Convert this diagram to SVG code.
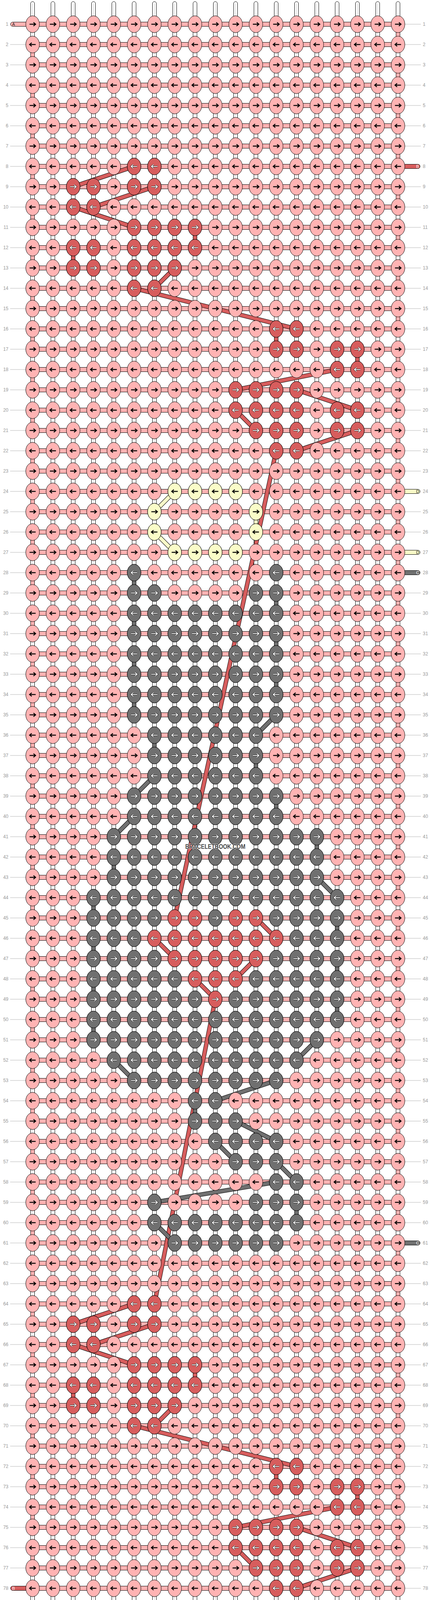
<svg xmlns="http://www.w3.org/2000/svg" width="1104" height="4336" viewBox="0 0 1104 4336">
<style>
.n{font-family:"Liberation Sans",Arial,sans-serif;font-size:12px;fill:#999}
.e{text-anchor:end}
.s{font-family:"Liberation Sans",Arial,sans-serif;font-size:11px}
.o{fill:none;stroke:#000;stroke-width:11}
.cp{fill:none;stroke:#ffb3b3;stroke-width:9}
.cr{fill:none;stroke:#d75d5d;stroke-width:9}
.cg{fill:none;stroke:#707070;stroke-width:9}
.cy{fill:none;stroke:#fafcc8;stroke-width:9}
.ll{fill:none;stroke:#b4b4b4;stroke-width:1}
</style>
<defs>
<path id="a" d="M-7.8,0H7.8M2.2,-4.7L7.8,0L2.2,4.7" fill="none"/>
<g id="wA"><use href="#a" stroke="#000" stroke-width="3.4"/><use href="#a" stroke="#fff" stroke-width="2"/></g>
<g id="pR"><ellipse rx="17.5" ry="21.5" fill="#ffb3b3" stroke="#000"/><use href="#a" stroke="#000" stroke-width="2.3"/></g>
<g id="pL"><ellipse rx="17.5" ry="21.5" fill="#ffb3b3" stroke="#000"/><use href="#a" stroke="#000" stroke-width="2.3" transform="scale(-1,1)"/></g>
<g id="yR"><ellipse rx="17.5" ry="21.5" fill="#fafcc8" stroke="#000"/><use href="#a" stroke="#000" stroke-width="2.3"/></g>
<g id="yL"><ellipse rx="17.5" ry="21.5" fill="#fafcc8" stroke="#000"/><use href="#a" stroke="#000" stroke-width="2.3" transform="scale(-1,1)"/></g>
<g id="rR"><ellipse rx="17.5" ry="21.5" fill="#d75d5d" stroke="#000"/><use href="#wA"/></g>
<g id="rL"><ellipse rx="17.5" ry="21.5" fill="#d75d5d" stroke="#000"/><use href="#wA" transform="scale(-1,1)"/></g>
<g id="gR"><ellipse rx="17.5" ry="21.5" fill="#707070" stroke="#000"/><use href="#wA"/></g>
<g id="gL"><ellipse rx="17.5" ry="21.5" fill="#707070" stroke="#000"/><use href="#wA" transform="scale(-1,1)"/></g>
<g id="TR"><use href="#pR"/><use href="#pR" x="52"/><use href="#pR" x="104"/><use href="#pR" x="156"/><use href="#pR" x="208"/><use href="#pR" x="260"/><use href="#pR" x="312"/><use href="#pR" x="364"/><use href="#pR" x="416"/><use href="#pR" x="468"/><use href="#pR" x="520"/><use href="#pR" x="572"/><use href="#pR" x="624"/><use href="#pR" x="676"/><use href="#pR" x="728"/><use href="#pR" x="780"/><use href="#pR" x="832"/><use href="#pR" x="884"/><use href="#pR" x="936"/></g>
<g id="TL"><use href="#pL"/><use href="#pL" x="52"/><use href="#pL" x="104"/><use href="#pL" x="156"/><use href="#pL" x="208"/><use href="#pL" x="260"/><use href="#pL" x="312"/><use href="#pL" x="364"/><use href="#pL" x="416"/><use href="#pL" x="468"/><use href="#pL" x="520"/><use href="#pL" x="572"/><use href="#pL" x="624"/><use href="#pL" x="676"/><use href="#pL" x="728"/><use href="#pL" x="780"/><use href="#pL" x="832"/><use href="#pL" x="884"/><use href="#pL" x="936"/></g>
<rect id="hs" x="83.5" y="-5.5" width="936" height="11" fill="#ffb3b3" stroke="#000"/>
<g id="vs"><rect x="-5" y="4" width="10" height="4327" rx="5" fill="#fff" stroke="#000"/><path d="M0,9V4326" stroke="#c8c8c8"/></g>
</defs>
<rect width="1104" height="4336" fill="#fff"/>
<g id="strings">
<use href="#vs" x="83.5"/><use href="#vs" x="135.5"/><use href="#vs" x="187.5"/><use href="#vs" x="239.5"/><use href="#vs" x="291.5"/><use href="#vs" x="343.5"/><use href="#vs" x="395.5"/><use href="#vs" x="447.5"/><use href="#vs" x="499.5"/><use href="#vs" x="551.5"/><use href="#vs" x="603.5"/><use href="#vs" x="655.5"/><use href="#vs" x="707.5"/><use href="#vs" x="759.5"/><use href="#vs" x="811.5"/><use href="#vs" x="863.5"/><use href="#vs" x="915.5"/><use href="#vs" x="967.5"/><use href="#vs" x="1019.5"/>
</g>
<g id="rowstrips">
<use href="#hs" y="62"/><use href="#hs" y="114"/><use href="#hs" y="166"/><use href="#hs" y="218"/><use href="#hs" y="270"/><use href="#hs" y="322"/><use href="#hs" y="374"/><use href="#hs" y="426"/><use href="#hs" y="478"/><use href="#hs" y="530"/><use href="#hs" y="582"/><use href="#hs" y="634"/><use href="#hs" y="686"/><use href="#hs" y="738"/><use href="#hs" y="790"/><use href="#hs" y="842"/><use href="#hs" y="894"/><use href="#hs" y="946"/><use href="#hs" y="998"/><use href="#hs" y="1050"/><use href="#hs" y="1102"/><use href="#hs" y="1154"/><use href="#hs" y="1206"/><use href="#hs" y="1258"/><use href="#hs" y="1310"/><use href="#hs" y="1362"/><use href="#hs" y="1414"/><use href="#hs" y="1466"/><use href="#hs" y="1518"/><use href="#hs" y="1570"/><use href="#hs" y="1622"/><use href="#hs" y="1674"/><use href="#hs" y="1726"/><use href="#hs" y="1778"/><use href="#hs" y="1830"/><use href="#hs" y="1882"/><use href="#hs" y="1934"/><use href="#hs" y="1986"/><use href="#hs" y="2038"/><use href="#hs" y="2090"/><use href="#hs" y="2142"/><use href="#hs" y="2194"/><use href="#hs" y="2246"/><use href="#hs" y="2298"/><use href="#hs" y="2350"/><use href="#hs" y="2402"/><use href="#hs" y="2454"/><use href="#hs" y="2506"/><use href="#hs" y="2558"/><use href="#hs" y="2610"/><use href="#hs" y="2662"/><use href="#hs" y="2714"/><use href="#hs" y="2766"/><use href="#hs" y="2818"/><use href="#hs" y="2870"/><use href="#hs" y="2922"/><use href="#hs" y="2974"/><use href="#hs" y="3026"/><use href="#hs" y="3078"/><use href="#hs" y="3130"/><use href="#hs" y="3182"/><use href="#hs" y="3234"/><use href="#hs" y="3286"/><use href="#hs" y="3338"/><use href="#hs" y="3390"/><use href="#hs" y="3442"/><use href="#hs" y="3494"/><use href="#hs" y="3546"/><use href="#hs" y="3598"/><use href="#hs" y="3650"/><use href="#hs" y="3702"/><use href="#hs" y="3754"/><use href="#hs" y="3806"/><use href="#hs" y="3858"/><use href="#hs" y="3910"/><use href="#hs" y="3962"/><use href="#hs" y="4014"/><use href="#hs" y="4066"/><use href="#hs" y="4118"/><use href="#hs" y="4170"/><use href="#hs" y="4222"/><use href="#hs" y="4274"/>
</g>
<g id="labels">
<path class="ll" d="M26,114h40M26,166h40M26,218h40M26,270h40M26,322h40M26,374h40M26,426h40M26,478h40M26,530h40M26,582h40M26,634h40M26,686h40M26,738h40M26,790h40M26,842h40M26,894h40M26,946h40M26,998h40M26,1050h40M26,1102h40M26,1154h40M26,1206h40M26,1258h40M26,1310h40M26,1362h40M26,1414h40M26,1466h40M26,1518h40M26,1570h40M26,1622h40M26,1674h40M26,1726h40M26,1778h40M26,1830h40M26,1882h40M26,1934h40M26,1986h40M26,2038h40M26,2090h40M26,2142h40M26,2194h40M26,2246h40M26,2298h40M26,2350h40M26,2402h40M26,2454h40M26,2506h40M26,2558h40M26,2610h40M26,2662h40M26,2714h40M26,2766h40M26,2818h40M26,2870h40M26,2922h40M26,2974h40M26,3026h40M26,3078h40M26,3130h40M26,3182h40M26,3234h40M26,3286h40M26,3338h40M26,3390h40M26,3442h40M26,3494h40M26,3546h40M26,3598h40M26,3650h40M26,3702h40M26,3754h40M26,3806h40M26,3858h40M26,3910h40M26,3962h40M26,4014h40M26,4118h40M26,4170h40M26,4222h40"/>
<path class="ll" d="M1037,62h41M1037,114h41M1037,166h41M1037,218h41M1037,270h41M1037,322h41M1037,374h41M1037,478h41M1037,530h41M1037,582h41M1037,634h41M1037,686h41M1037,738h41M1037,790h41M1037,842h41M1037,894h41M1037,946h41M1037,998h41M1037,1050h41M1037,1102h41M1037,1154h41M1037,1206h41M1037,1310h41M1037,1362h41M1037,1518h41M1037,1570h41M1037,1622h41M1037,1674h41M1037,1726h41M1037,1778h41M1037,1830h41M1037,1882h41M1037,1934h41M1037,1986h41M1037,2038h41M1037,2090h41M1037,2142h41M1037,2194h41M1037,2246h41M1037,2298h41M1037,2350h41M1037,2402h41M1037,2454h41M1037,2506h41M1037,2558h41M1037,2610h41M1037,2662h41M1037,2714h41M1037,2766h41M1037,2818h41M1037,2870h41M1037,2922h41M1037,2974h41M1037,3026h41M1037,3078h41M1037,3130h41M1037,3234h41M1037,3286h41M1037,3338h41M1037,3390h41M1037,3442h41M1037,3494h41M1037,3546h41M1037,3598h41M1037,3650h41M1037,3702h41M1037,3754h41M1037,3806h41M1037,3858h41M1037,3910h41M1037,3962h41M1037,4014h41M1037,4066h41M1037,4118h41M1037,4170h41M1037,4222h41M1037,4274h41"/>
<g class="n e">
<text x="21.5" y="66">1</text><text x="21.5" y="118">2</text><text x="21.5" y="170">3</text><text x="21.5" y="222">4</text><text x="21.5" y="274">5</text><text x="21.5" y="326">6</text><text x="21.5" y="378">7</text><text x="21.5" y="430">8</text><text x="21.5" y="482">9</text><text x="21.5" y="534">10</text><text x="21.5" y="586">11</text><text x="21.5" y="638">12</text><text x="21.5" y="690">13</text><text x="21.5" y="742">14</text><text x="21.5" y="794">15</text><text x="21.5" y="846">16</text><text x="21.5" y="898">17</text><text x="21.5" y="950">18</text><text x="21.5" y="1002">19</text><text x="21.5" y="1054">20</text><text x="21.5" y="1106">21</text><text x="21.5" y="1158">22</text><text x="21.5" y="1210">23</text><text x="21.5" y="1262">24</text><text x="21.5" y="1314">25</text><text x="21.5" y="1366">26</text><text x="21.5" y="1418">27</text><text x="21.5" y="1470">28</text><text x="21.5" y="1522">29</text><text x="21.5" y="1574">30</text><text x="21.5" y="1626">31</text><text x="21.5" y="1678">32</text><text x="21.5" y="1730">33</text><text x="21.5" y="1782">34</text><text x="21.5" y="1834">35</text><text x="21.5" y="1886">36</text><text x="21.5" y="1938">37</text><text x="21.5" y="1990">38</text><text x="21.5" y="2042">39</text><text x="21.5" y="2094">40</text><text x="21.5" y="2146">41</text><text x="21.5" y="2198">42</text><text x="21.5" y="2250">43</text><text x="21.5" y="2302">44</text><text x="21.5" y="2354">45</text><text x="21.5" y="2406">46</text><text x="21.5" y="2458">47</text><text x="21.5" y="2510">48</text><text x="21.5" y="2562">49</text><text x="21.5" y="2614">50</text><text x="21.5" y="2666">51</text><text x="21.5" y="2718">52</text><text x="21.5" y="2770">53</text><text x="21.5" y="2822">54</text><text x="21.5" y="2874">55</text><text x="21.5" y="2926">56</text><text x="21.5" y="2978">57</text><text x="21.5" y="3030">58</text><text x="21.5" y="3082">59</text><text x="21.5" y="3134">60</text><text x="21.5" y="3186">61</text><text x="21.5" y="3238">62</text><text x="21.5" y="3290">63</text><text x="21.5" y="3342">64</text><text x="21.5" y="3394">65</text><text x="21.5" y="3446">66</text><text x="21.5" y="3498">67</text><text x="21.5" y="3550">68</text><text x="21.5" y="3602">69</text><text x="21.5" y="3654">70</text><text x="21.5" y="3706">71</text><text x="21.5" y="3758">72</text><text x="21.5" y="3810">73</text><text x="21.5" y="3862">74</text><text x="21.5" y="3914">75</text><text x="21.5" y="3966">76</text><text x="21.5" y="4018">77</text><text x="21.5" y="4070">78</text><text x="21.5" y="4122">79</text><text x="21.5" y="4174">80</text><text x="21.5" y="4226">81</text><text x="21.5" y="4278">82</text>
</g>
<g class="n">
<text x="1083" y="66">1</text><text x="1083" y="118">2</text><text x="1083" y="170">3</text><text x="1083" y="222">4</text><text x="1083" y="274">5</text><text x="1083" y="326">6</text><text x="1083" y="378">7</text><text x="1083" y="430">8</text><text x="1083" y="482">9</text><text x="1083" y="534">10</text><text x="1083" y="586">11</text><text x="1083" y="638">12</text><text x="1083" y="690">13</text><text x="1083" y="742">14</text><text x="1083" y="794">15</text><text x="1083" y="846">16</text><text x="1083" y="898">17</text><text x="1083" y="950">18</text><text x="1083" y="1002">19</text><text x="1083" y="1054">20</text><text x="1083" y="1106">21</text><text x="1083" y="1158">22</text><text x="1083" y="1210">23</text><text x="1083" y="1262">24</text><text x="1083" y="1314">25</text><text x="1083" y="1366">26</text><text x="1083" y="1418">27</text><text x="1083" y="1470">28</text><text x="1083" y="1522">29</text><text x="1083" y="1574">30</text><text x="1083" y="1626">31</text><text x="1083" y="1678">32</text><text x="1083" y="1730">33</text><text x="1083" y="1782">34</text><text x="1083" y="1834">35</text><text x="1083" y="1886">36</text><text x="1083" y="1938">37</text><text x="1083" y="1990">38</text><text x="1083" y="2042">39</text><text x="1083" y="2094">40</text><text x="1083" y="2146">41</text><text x="1083" y="2198">42</text><text x="1083" y="2250">43</text><text x="1083" y="2302">44</text><text x="1083" y="2354">45</text><text x="1083" y="2406">46</text><text x="1083" y="2458">47</text><text x="1083" y="2510">48</text><text x="1083" y="2562">49</text><text x="1083" y="2614">50</text><text x="1083" y="2666">51</text><text x="1083" y="2718">52</text><text x="1083" y="2770">53</text><text x="1083" y="2822">54</text><text x="1083" y="2874">55</text><text x="1083" y="2926">56</text><text x="1083" y="2978">57</text><text x="1083" y="3030">58</text><text x="1083" y="3082">59</text><text x="1083" y="3134">60</text><text x="1083" y="3186">61</text><text x="1083" y="3238">62</text><text x="1083" y="3290">63</text><text x="1083" y="3342">64</text><text x="1083" y="3394">65</text><text x="1083" y="3446">66</text><text x="1083" y="3498">67</text><text x="1083" y="3550">68</text><text x="1083" y="3602">69</text><text x="1083" y="3654">70</text><text x="1083" y="3706">71</text><text x="1083" y="3758">72</text><text x="1083" y="3810">73</text><text x="1083" y="3862">74</text><text x="1083" y="3914">75</text><text x="1083" y="3966">76</text><text x="1083" y="4018">77</text><text x="1083" y="4070">78</text><text x="1083" y="4122">79</text><text x="1083" y="4174">80</text><text x="1083" y="4226">81</text><text x="1083" y="4278">82</text>
</g>
</g>
<g id="strands">
<g id="strand-A-top"><rect x="27" y="56.5" width="60" height="11" rx="5.5" fill="#ffb3b3" stroke="#000"/><text class="s" x="31" y="66" fill="#222">A</text></g>
<g id="strand-A-bottom"><rect x="27" y="4268.5" width="60" height="11" rx="5.5" fill="#ffb3b3" stroke="#000"/><text class="s" x="31" y="4278" fill="#222">A</text></g>
<g id="strand-B-out"><rect x="27" y="4060.5" width="60" height="11" rx="5.5" fill="#d75d5d" stroke="#000"/><text class="s" x="31" y="4070" fill="#fff">B</text></g>
<g id="strand-B-in"><rect x="1016" y="420.5" width="60" height="11" rx="5.5" fill="#d75d5d" stroke="#000"/><text class="s" x="1066" y="430" fill="#fff">B</text></g>
<g id="strand-D-in"><rect x="1016" y="1252.5" width="60" height="11" rx="5.5" fill="#fafcc8" stroke="#000"/><text class="s" x="1066" y="1262" fill="#222">D</text></g>
<g id="strand-D-out"><rect x="1016" y="1408.5" width="60" height="11" rx="5.5" fill="#fafcc8" stroke="#000"/><text class="s" x="1066" y="1418" fill="#222">D</text></g>
<g id="strand-C-in"><rect x="1016" y="1460.5" width="60" height="11" rx="5.5" fill="#707070" stroke="#000"/><text class="s" x="1066" y="1470" fill="#fff">C</text></g>
<g id="strand-C-out"><rect x="1016" y="3176.5" width="60" height="11" rx="5.5" fill="#707070" stroke="#000"/><text class="s" x="1066" y="3186" fill="#fff">C</text></g>
</g>
<g id="connectors">
<path id="turnL" class="o" d="M83.5,114v52m0,52v52m0,52v52m0,52v52m0,52v52m0,52v52m0,52v52m0,52v52m0,52v52m0,52v52m0,52v52m0,52v52m0,52v52m0,52v52m0,52v52m0,52v52m0,52v52m0,52v52m0,52v52m0,52v52m0,52v52m0,52v52m0,52v52m0,52v52m0,52v52m0,52v52m0,52v52m0,52v52m0,52v52m0,52v52m0,52v52m0,52v52m0,52v52m0,52v52m0,52v52m0,52v52m0,52v52M1019.5,62v52m0,52v52m0,52v52m0,52v52m0,52v52m0,52v52m0,52v52m0,52v52m0,52v52m0,52v52m0,52v52m0,52v52m0,52v52m0,52v52m0,52v52m0,52v52m0,52v52m0,52v52m0,52v52m0,52v52m0,52v52m0,52v52m0,52v52m0,52v52m0,52v52m0,52v52m0,52v52m0,52v52m0,52v52m0,52v52m0,52v52m0,52v52m0,52v52m0,52v52m0,52v52m0,52v52m0,52v52m0,52v52"/>
<path class="cp" d="M83.5,114v52m0,52v52m0,52v52m0,52v52m0,52v52m0,52v52m0,52v52m0,52v52m0,52v52m0,52v52m0,52v52m0,52v52m0,52v52m0,52v52m0,52v52m0,52v52m0,52v52m0,52v52m0,52v52m0,52v52m0,52v52m0,52v52m0,52v52m0,52v52m0,52v52m0,52v52m0,52v52m0,52v52m0,52v52m0,52v52m0,52v52m0,52v52m0,52v52m0,52v52m0,52v52m0,52v52m0,52v52m0,52v52M1019.5,62v52m0,52v52m0,52v52m0,52v52m0,52v52m0,52v52m0,52v52m0,52v52m0,52v52m0,52v52m0,52v52m0,52v52m0,52v52m0,52v52m0,52v52m0,52v52m0,52v52m0,52v52m0,52v52m0,52v52m0,52v52m0,52v52m0,52v52m0,52v52m0,52v52m0,52v52m0,52v52m0,52v52m0,52v52m0,52v52m0,52v52m0,52v52m0,52v52m0,52v52m0,52v52m0,52v52m0,52v52m0,52v52m0,52v52"/>
<path id="pathB" class="o" d="M343.5,426L187.5,478M395.5,478L239.5,530M187.5,530L343.5,582M499.5,582V634M187.5,634V686M447.5,686L395.5,738M343.5,738L759.5,842M707.5,842V894M915.5,894V946M863.5,946L603.5,998M759.5,998L915.5,1050M603.5,1050L655.5,1102M915.5,1102L759.5,1154M707.5,1154L447.5,2350M655.5,2350L707.5,2402M395.5,2402L447.5,2454M655.5,2454L603.5,2506M499.5,2506L551.5,2558M551.5,2558L395.5,3338M343.5,3338L187.5,3390M395.5,3390L239.5,3442M187.5,3442L343.5,3494M499.5,3494V3546M187.5,3546V3598M447.5,3598L395.5,3650M343.5,3650L759.5,3754M707.5,3754V3806M915.5,3806V3858M863.5,3858L603.5,3910M759.5,3910L915.5,3962M603.5,3962L655.5,4014M915.5,4014L759.5,4066"/>
<path class="cr" d="M343.5,426L187.5,478M395.5,478L239.5,530M187.5,530L343.5,582M499.5,582V634M187.5,634V686M447.5,686L395.5,738M343.5,738L759.5,842M707.5,842V894M915.5,894V946M863.5,946L603.5,998M759.5,998L915.5,1050M603.5,1050L655.5,1102M915.5,1102L759.5,1154M707.5,1154L447.5,2350M655.5,2350L707.5,2402M395.5,2402L447.5,2454M655.5,2454L603.5,2506M499.5,2506L551.5,2558M551.5,2558L395.5,3338M343.5,3338L187.5,3390M395.5,3390L239.5,3442M187.5,3442L343.5,3494M499.5,3494V3546M187.5,3546V3598M447.5,3598L395.5,3650M343.5,3650L759.5,3754M707.5,3754V3806M915.5,3806V3858M863.5,3858L603.5,3910M759.5,3910L915.5,3962M603.5,3962L655.5,4014M915.5,4014L759.5,4066"/>
<path id="pathC" class="o" d="M343.5,1466V1518M707.5,1518V1570M343.5,1570V1622M707.5,1622V1674M343.5,1674V1726M707.5,1726V1778M343.5,1778V1830M707.5,1830L655.5,1882M395.5,1882V1934M655.5,1934V1986M395.5,1986L343.5,2038M707.5,2038V2090M343.5,2090L291.5,2142M811.5,2142V2194M291.5,2194V2246M811.5,2246L863.5,2298M239.5,2298V2350M863.5,2350V2402M239.5,2402V2454M863.5,2454V2506M239.5,2506V2558M863.5,2558V2610M239.5,2610V2662M811.5,2662L759.5,2714M291.5,2714L343.5,2766M707.5,2766L551.5,2818M499.5,2818V2870M603.5,2870L707.5,2922M551.5,2922L603.5,2974M707.5,2974L759.5,3026M707.5,3026L395.5,3078M759.5,3078V3130M395.5,3130L447.5,3182"/>
<path class="cg" d="M343.5,1466V1518M707.5,1518V1570M343.5,1570V1622M707.5,1622V1674M343.5,1674V1726M707.5,1726V1778M343.5,1778V1830M707.5,1830L655.5,1882M395.5,1882V1934M655.5,1934V1986M395.5,1986L343.5,2038M707.5,2038V2090M343.5,2090L291.5,2142M811.5,2142V2194M291.5,2194V2246M811.5,2246L863.5,2298M239.5,2298V2350M863.5,2350V2402M239.5,2402V2454M863.5,2454V2506M239.5,2506V2558M863.5,2558V2610M239.5,2610V2662M811.5,2662L759.5,2714M291.5,2714L343.5,2766M707.5,2766L551.5,2818M499.5,2818V2870M603.5,2870L707.5,2922M551.5,2922L603.5,2974M707.5,2974L759.5,3026M707.5,3026L395.5,3078M759.5,3078V3130M395.5,3130L447.5,3182"/>
<path id="pathD" class="o" d="M447.5,1258L395.5,1310M655.5,1310V1362M395.5,1362L447.5,1414"/>
<path class="cy" d="M447.5,1258L395.5,1310M655.5,1310V1362M395.5,1362L447.5,1414"/>
</g>
<g id="knots">
<g id="row1" transform="translate(83.5,62)"><use href="#TR"/></g>
<g id="row2" transform="translate(83.5,114)"><use href="#TL"/></g>
<g id="row3" transform="translate(83.5,166)"><use href="#TR"/></g>
<g id="row4" transform="translate(83.5,218)"><use href="#TL"/></g>
<g id="row5" transform="translate(83.5,270)"><use href="#TR"/></g>
<g id="row6" transform="translate(83.5,322)"><use href="#TL"/></g>
<g id="row7" transform="translate(83.5,374)"><use href="#TR"/></g>
<g id="row8" transform="translate(83.5,426)"><use href="#TL"/><use href="#rL" x="260"/><use href="#rL" x="312"/></g>
<g id="row9" transform="translate(83.5,478)"><use href="#TR"/><use href="#rR" x="104"/><use href="#rR" x="156"/><use href="#rR" x="260"/><use href="#rR" x="312"/></g>
<g id="row10" transform="translate(83.5,530)"><use href="#TL"/><use href="#rL" x="104"/><use href="#rL" x="156"/></g>
<g id="row11" transform="translate(83.5,582)"><use href="#TR"/><use href="#rR" x="260"/><use href="#rR" x="312"/><use href="#rR" x="364"/><use href="#rR" x="416"/></g>
<g id="row12" transform="translate(83.5,634)"><use href="#TL"/><use href="#rL" x="104"/><use href="#rL" x="156"/><use href="#rL" x="260"/><use href="#rL" x="312"/><use href="#rL" x="364"/><use href="#rL" x="416"/></g>
<g id="row13" transform="translate(83.5,686)"><use href="#TR"/><use href="#rR" x="104"/><use href="#rR" x="156"/><use href="#rR" x="260"/><use href="#rR" x="312"/><use href="#rR" x="364"/></g>
<g id="row14" transform="translate(83.5,738)"><use href="#TL"/><use href="#rL" x="260"/><use href="#rL" x="312"/></g>
<g id="row15" transform="translate(83.5,790)"><use href="#TR"/></g>
<g id="row16" transform="translate(83.5,842)"><use href="#TL"/><use href="#rL" x="624"/><use href="#rL" x="676"/></g>
<g id="row17" transform="translate(83.5,894)"><use href="#TR"/><use href="#rR" x="624"/><use href="#rR" x="676"/><use href="#rR" x="780"/><use href="#rR" x="832"/></g>
<g id="row18" transform="translate(83.5,946)"><use href="#TL"/><use href="#rL" x="780"/><use href="#rL" x="832"/></g>
<g id="row19" transform="translate(83.5,998)"><use href="#TR"/><use href="#rR" x="520"/><use href="#rR" x="572"/><use href="#rR" x="624"/><use href="#rR" x="676"/></g>
<g id="row20" transform="translate(83.5,1050)"><use href="#TL"/><use href="#rL" x="520"/><use href="#rL" x="572"/><use href="#rL" x="624"/><use href="#rL" x="676"/><use href="#rL" x="780"/><use href="#rL" x="832"/></g>
<g id="row21" transform="translate(83.5,1102)"><use href="#TR"/><use href="#rR" x="572"/><use href="#rR" x="624"/><use href="#rR" x="676"/><use href="#rR" x="780"/><use href="#rR" x="832"/></g>
<g id="row22" transform="translate(83.5,1154)"><use href="#TL"/><use href="#rL" x="624"/><use href="#rL" x="676"/></g>
<g id="row23" transform="translate(83.5,1206)"><use href="#TR"/></g>
<g id="row24" transform="translate(83.5,1258)"><use href="#TL"/><use href="#yL" x="364"/><use href="#yL" x="416"/><use href="#yL" x="468"/><use href="#yL" x="520"/></g>
<g id="row25" transform="translate(83.5,1310)"><use href="#TR"/><use href="#yR" x="312"/><use href="#yR" x="572"/></g>
<g id="row26" transform="translate(83.5,1362)"><use href="#TL"/><use href="#yL" x="312"/><use href="#yL" x="572"/></g>
<g id="row27" transform="translate(83.5,1414)"><use href="#TR"/><use href="#yR" x="364"/><use href="#yR" x="416"/><use href="#yR" x="468"/><use href="#yR" x="520"/></g>
<g id="row28" transform="translate(83.5,1466)"><use href="#TL"/><use href="#gL" x="260"/><use href="#gL" x="624"/></g>
<g id="row29" transform="translate(83.5,1518)"><use href="#TR"/><use href="#gR" x="260"/><use href="#gR" x="312"/><use href="#gR" x="572"/><use href="#gR" x="624"/></g>
<g id="row30" transform="translate(83.5,1570)"><use href="#TL"/><use href="#gL" x="260"/><use href="#gL" x="312"/><use href="#gL" x="364"/><use href="#gL" x="416"/><use href="#gL" x="468"/><use href="#gL" x="520"/><use href="#gL" x="572"/><use href="#gL" x="624"/></g>
<g id="row31" transform="translate(83.5,1622)"><use href="#TR"/><use href="#gR" x="260"/><use href="#gR" x="312"/><use href="#gR" x="364"/><use href="#gR" x="416"/><use href="#gR" x="468"/><use href="#gR" x="520"/><use href="#gR" x="572"/><use href="#gR" x="624"/></g>
<g id="row32" transform="translate(83.5,1674)"><use href="#TL"/><use href="#gL" x="260"/><use href="#gL" x="312"/><use href="#gL" x="364"/><use href="#gL" x="416"/><use href="#gL" x="468"/><use href="#gL" x="520"/><use href="#gL" x="572"/><use href="#gL" x="624"/></g>
<g id="row33" transform="translate(83.5,1726)"><use href="#TR"/><use href="#gR" x="260"/><use href="#gR" x="312"/><use href="#gR" x="364"/><use href="#gR" x="416"/><use href="#gR" x="468"/><use href="#gR" x="520"/><use href="#gR" x="572"/><use href="#gR" x="624"/></g>
<g id="row34" transform="translate(83.5,1778)"><use href="#TL"/><use href="#gL" x="260"/><use href="#gL" x="312"/><use href="#gL" x="364"/><use href="#gL" x="416"/><use href="#gL" x="468"/><use href="#gL" x="520"/><use href="#gL" x="572"/><use href="#gL" x="624"/></g>
<g id="row35" transform="translate(83.5,1830)"><use href="#TR"/><use href="#gR" x="260"/><use href="#gR" x="312"/><use href="#gR" x="364"/><use href="#gR" x="416"/><use href="#gR" x="468"/><use href="#gR" x="520"/><use href="#gR" x="572"/><use href="#gR" x="624"/></g>
<g id="row36" transform="translate(83.5,1882)"><use href="#TL"/><use href="#gL" x="312"/><use href="#gL" x="364"/><use href="#gL" x="416"/><use href="#gL" x="468"/><use href="#gL" x="520"/><use href="#gL" x="572"/></g>
<g id="row37" transform="translate(83.5,1934)"><use href="#TR"/><use href="#gR" x="312"/><use href="#gR" x="364"/><use href="#gR" x="416"/><use href="#gR" x="468"/><use href="#gR" x="520"/><use href="#gR" x="572"/></g>
<g id="row38" transform="translate(83.5,1986)"><use href="#TL"/><use href="#gL" x="312"/><use href="#gL" x="364"/><use href="#gL" x="416"/><use href="#gL" x="468"/><use href="#gL" x="520"/><use href="#gL" x="572"/></g>
<g id="row39" transform="translate(83.5,2038)"><use href="#TR"/><use href="#gR" x="260"/><use href="#gR" x="312"/><use href="#gR" x="364"/><use href="#gR" x="416"/><use href="#gR" x="468"/><use href="#gR" x="520"/><use href="#gR" x="572"/><use href="#gR" x="624"/></g>
<g id="row40" transform="translate(83.5,2090)"><use href="#TL"/><use href="#gL" x="260"/><use href="#gL" x="312"/><use href="#gL" x="364"/><use href="#gL" x="416"/><use href="#gL" x="468"/><use href="#gL" x="520"/><use href="#gL" x="572"/><use href="#gL" x="624"/></g>
<g id="row41" transform="translate(83.5,2142)"><use href="#TR"/><use href="#gR" x="208"/><use href="#gR" x="260"/><use href="#gR" x="312"/><use href="#gR" x="364"/><use href="#gR" x="416"/><use href="#gR" x="468"/><use href="#gR" x="520"/><use href="#gR" x="572"/><use href="#gR" x="624"/><use href="#gR" x="676"/><use href="#gR" x="728"/></g>
<g id="row42" transform="translate(83.5,2194)"><use href="#TL"/><use href="#gL" x="208"/><use href="#gL" x="260"/><use href="#gL" x="312"/><use href="#gL" x="364"/><use href="#gL" x="416"/><use href="#gL" x="468"/><use href="#gL" x="520"/><use href="#gL" x="572"/><use href="#gL" x="624"/><use href="#gL" x="676"/><use href="#gL" x="728"/></g>
<g id="row43" transform="translate(83.5,2246)"><use href="#TR"/><use href="#gR" x="208"/><use href="#gR" x="260"/><use href="#gR" x="312"/><use href="#gR" x="364"/><use href="#gR" x="416"/><use href="#gR" x="468"/><use href="#gR" x="520"/><use href="#gR" x="572"/><use href="#gR" x="624"/><use href="#gR" x="676"/><use href="#gR" x="728"/></g>
<g id="row44" transform="translate(83.5,2298)"><use href="#TL"/><use href="#gL" x="156"/><use href="#gL" x="208"/><use href="#gL" x="260"/><use href="#gL" x="312"/><use href="#gL" x="364"/><use href="#gL" x="416"/><use href="#gL" x="468"/><use href="#gL" x="520"/><use href="#gL" x="572"/><use href="#gL" x="624"/><use href="#gL" x="676"/><use href="#gL" x="728"/><use href="#gL" x="780"/></g>
<g id="row45" transform="translate(83.5,2350)"><use href="#TR"/><use href="#gR" x="156"/><use href="#gR" x="208"/><use href="#gR" x="260"/><use href="#gR" x="312"/><use href="#rR" x="364"/><use href="#rR" x="416"/><use href="#gR" x="468"/><use href="#rR" x="520"/><use href="#rR" x="572"/><use href="#gR" x="624"/><use href="#gR" x="676"/><use href="#gR" x="728"/><use href="#gR" x="780"/></g>
<g id="row46" transform="translate(83.5,2402)"><use href="#TL"/><use href="#gL" x="156"/><use href="#gL" x="208"/><use href="#gL" x="260"/><use href="#rL" x="312"/><use href="#rL" x="364"/><use href="#rL" x="416"/><use href="#rL" x="468"/><use href="#rL" x="520"/><use href="#rL" x="572"/><use href="#rL" x="624"/><use href="#gL" x="676"/><use href="#gL" x="728"/><use href="#gL" x="780"/></g>
<g id="row47" transform="translate(83.5,2454)"><use href="#TR"/><use href="#gR" x="156"/><use href="#gR" x="208"/><use href="#gR" x="260"/><use href="#gR" x="312"/><use href="#rR" x="364"/><use href="#rR" x="416"/><use href="#rR" x="468"/><use href="#rR" x="520"/><use href="#rR" x="572"/><use href="#gR" x="624"/><use href="#gR" x="676"/><use href="#gR" x="728"/><use href="#gR" x="780"/></g>
<g id="row48" transform="translate(83.5,2506)"><use href="#TL"/><use href="#gL" x="156"/><use href="#gL" x="208"/><use href="#gL" x="260"/><use href="#gL" x="312"/><use href="#gL" x="364"/><use href="#rL" x="416"/><use href="#rL" x="468"/><use href="#rL" x="520"/><use href="#gL" x="572"/><use href="#gL" x="624"/><use href="#gL" x="676"/><use href="#gL" x="728"/><use href="#gL" x="780"/></g>
<g id="row49" transform="translate(83.5,2558)"><use href="#TR"/><use href="#gR" x="156"/><use href="#gR" x="208"/><use href="#gR" x="260"/><use href="#gR" x="312"/><use href="#gR" x="364"/><use href="#gR" x="416"/><use href="#rR" x="468"/><use href="#gR" x="520"/><use href="#gR" x="572"/><use href="#gR" x="624"/><use href="#gR" x="676"/><use href="#gR" x="728"/><use href="#gR" x="780"/></g>
<g id="row50" transform="translate(83.5,2610)"><use href="#TL"/><use href="#gL" x="156"/><use href="#gL" x="208"/><use href="#gL" x="260"/><use href="#gL" x="312"/><use href="#gL" x="364"/><use href="#gL" x="416"/><use href="#gL" x="468"/><use href="#gL" x="520"/><use href="#gL" x="572"/><use href="#gL" x="624"/><use href="#gL" x="676"/><use href="#gL" x="728"/><use href="#gL" x="780"/></g>
<g id="row51" transform="translate(83.5,2662)"><use href="#TR"/><use href="#gR" x="156"/><use href="#gR" x="208"/><use href="#gR" x="260"/><use href="#gR" x="312"/><use href="#gR" x="364"/><use href="#gR" x="416"/><use href="#gR" x="468"/><use href="#gR" x="520"/><use href="#gR" x="572"/><use href="#gR" x="624"/><use href="#gR" x="676"/><use href="#gR" x="728"/></g>
<g id="row52" transform="translate(83.5,2714)"><use href="#TL"/><use href="#gL" x="208"/><use href="#gL" x="260"/><use href="#gL" x="312"/><use href="#gL" x="364"/><use href="#gL" x="416"/><use href="#gL" x="468"/><use href="#gL" x="520"/><use href="#gL" x="572"/><use href="#gL" x="624"/><use href="#gL" x="676"/></g>
<g id="row53" transform="translate(83.5,2766)"><use href="#TR"/><use href="#gR" x="260"/><use href="#gR" x="312"/><use href="#gR" x="364"/><use href="#gR" x="416"/><use href="#gR" x="468"/><use href="#gR" x="520"/><use href="#gR" x="572"/><use href="#gR" x="624"/></g>
<g id="row54" transform="translate(83.5,2818)"><use href="#TL"/><use href="#gL" x="416"/><use href="#gL" x="468"/></g>
<g id="row55" transform="translate(83.5,2870)"><use href="#TR"/><use href="#gR" x="416"/><use href="#gR" x="468"/><use href="#gR" x="520"/></g>
<g id="row56" transform="translate(83.5,2922)"><use href="#TL"/><use href="#gL" x="468"/><use href="#gL" x="520"/><use href="#gL" x="572"/><use href="#gL" x="624"/></g>
<g id="row57" transform="translate(83.5,2974)"><use href="#TR"/><use href="#gR" x="520"/><use href="#gR" x="572"/><use href="#gR" x="624"/></g>
<g id="row58" transform="translate(83.5,3026)"><use href="#TL"/><use href="#gL" x="624"/><use href="#gL" x="676"/></g>
<g id="row59" transform="translate(83.5,3078)"><use href="#TR"/><use href="#gR" x="312"/><use href="#gR" x="572"/><use href="#gR" x="624"/><use href="#gR" x="676"/></g>
<g id="row60" transform="translate(83.5,3130)"><use href="#TL"/><use href="#gL" x="312"/><use href="#gL" x="364"/><use href="#gL" x="416"/><use href="#gL" x="468"/><use href="#gL" x="520"/><use href="#gL" x="572"/><use href="#gL" x="624"/><use href="#gL" x="676"/></g>
<g id="row61" transform="translate(83.5,3182)"><use href="#TR"/><use href="#gR" x="364"/><use href="#gR" x="416"/><use href="#gR" x="468"/><use href="#gR" x="520"/><use href="#gR" x="572"/><use href="#gR" x="624"/></g>
<g id="row62" transform="translate(83.5,3234)"><use href="#TL"/></g>
<g id="row63" transform="translate(83.5,3286)"><use href="#TR"/></g>
<g id="row64" transform="translate(83.5,3338)"><use href="#TL"/><use href="#rL" x="260"/><use href="#rL" x="312"/></g>
<g id="row65" transform="translate(83.5,3390)"><use href="#TR"/><use href="#rR" x="104"/><use href="#rR" x="156"/><use href="#rR" x="260"/><use href="#rR" x="312"/></g>
<g id="row66" transform="translate(83.5,3442)"><use href="#TL"/><use href="#rL" x="104"/><use href="#rL" x="156"/></g>
<g id="row67" transform="translate(83.5,3494)"><use href="#TR"/><use href="#rR" x="260"/><use href="#rR" x="312"/><use href="#rR" x="364"/><use href="#rR" x="416"/></g>
<g id="row68" transform="translate(83.5,3546)"><use href="#TL"/><use href="#rL" x="104"/><use href="#rL" x="156"/><use href="#rL" x="260"/><use href="#rL" x="312"/><use href="#rL" x="364"/><use href="#rL" x="416"/></g>
<g id="row69" transform="translate(83.5,3598)"><use href="#TR"/><use href="#rR" x="104"/><use href="#rR" x="156"/><use href="#rR" x="260"/><use href="#rR" x="312"/><use href="#rR" x="364"/></g>
<g id="row70" transform="translate(83.5,3650)"><use href="#TL"/><use href="#rL" x="260"/><use href="#rL" x="312"/></g>
<g id="row71" transform="translate(83.5,3702)"><use href="#TR"/></g>
<g id="row72" transform="translate(83.5,3754)"><use href="#TL"/><use href="#rL" x="624"/><use href="#rL" x="676"/></g>
<g id="row73" transform="translate(83.5,3806)"><use href="#TR"/><use href="#rR" x="624"/><use href="#rR" x="676"/><use href="#rR" x="780"/><use href="#rR" x="832"/></g>
<g id="row74" transform="translate(83.5,3858)"><use href="#TL"/><use href="#rL" x="780"/><use href="#rL" x="832"/></g>
<g id="row75" transform="translate(83.5,3910)"><use href="#TR"/><use href="#rR" x="520"/><use href="#rR" x="572"/><use href="#rR" x="624"/><use href="#rR" x="676"/></g>
<g id="row76" transform="translate(83.5,3962)"><use href="#TL"/><use href="#rL" x="520"/><use href="#rL" x="572"/><use href="#rL" x="624"/><use href="#rL" x="676"/><use href="#rL" x="780"/><use href="#rL" x="832"/></g>
<g id="row77" transform="translate(83.5,4014)"><use href="#TR"/><use href="#rR" x="572"/><use href="#rR" x="624"/><use href="#rR" x="676"/><use href="#rR" x="780"/><use href="#rR" x="832"/></g>
<g id="row78" transform="translate(83.5,4066)"><use href="#TL"/><use href="#rL" x="624"/><use href="#rL" x="676"/></g>
<g id="row79" transform="translate(83.5,4118)"><use href="#TR"/></g>
<g id="row80" transform="translate(83.5,4170)"><use href="#TL"/></g>
<g id="row81" transform="translate(83.5,4222)"><use href="#TR"/></g>
<g id="row82" transform="translate(83.5,4274)"><use href="#TL"/></g>
</g>
<text id="watermark" x="551.5" y="2173" text-anchor="middle" font-family="Liberation Sans, Arial, sans-serif" font-weight="bold" font-size="16" textLength="154" lengthAdjust="spacingAndGlyphs" fill="#484848" stroke="#fff" stroke-width="2" stroke-opacity="0.6" paint-order="stroke">BRACELETBOOK.COM</text>
</svg>
